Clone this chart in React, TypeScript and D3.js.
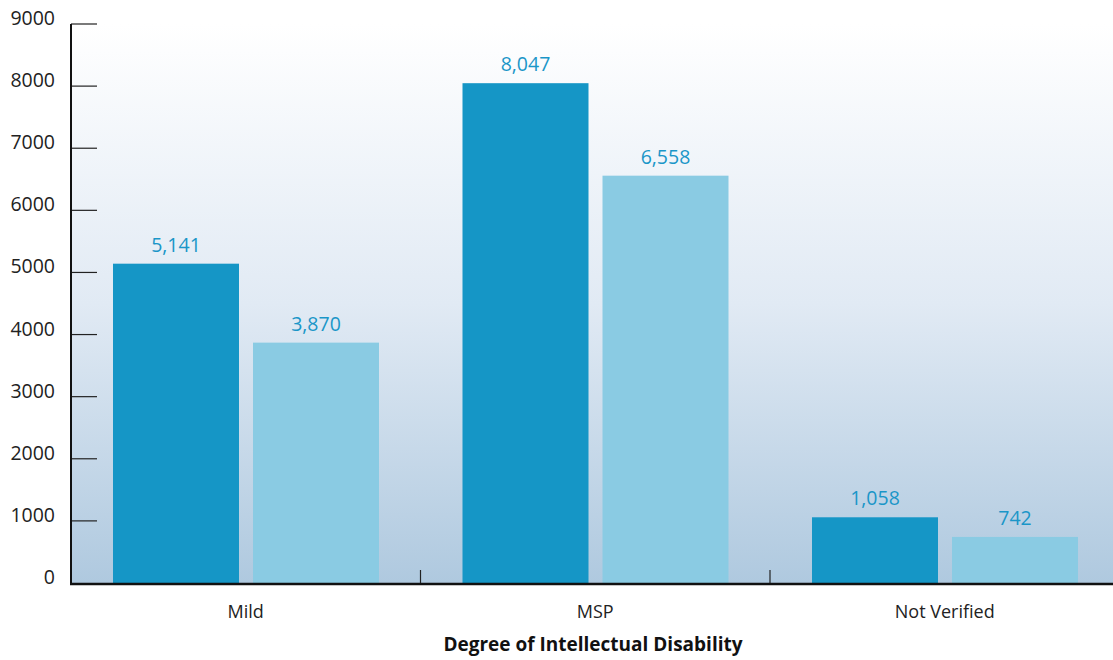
import React from "react";
import * as d3 from "d3";

const categories = ["Mild", "MSP", "Not Verified"];
const seriesA = [5141, 8047, 1058];
const seriesB = [3870, 6558, 742];
const yTicks = [0, 1000, 2000, 3000, 4000, 5000, 6000, 7000, 8000, 9000];
const xTitle = "Degree of Intellectual Disability";

const W = 1113;
const H = 660;
const FONT = "'Open Sans', 'Noto Sans', sans-serif";

export default function App() {
  const left = 71;
  const bandW = 349.5;
  const top = 24;
  const bottom = 583;
  const x = d3
    .scaleBand<string>()
    .domain(categories)
    .range([left, left + bandW * categories.length])
    .paddingInner(0)
    .paddingOuter(0);
  const y = d3.scaleLinear().domain([0, 9000]).range([bottom, top]);
  const barW = 126;
  const gapOuter = 42;
  const gapInner = 14;
  const fmt = d3.format(",");

  const series = [
    { values: seriesA, color: "#1596c6", offset: gapOuter },
    { values: seriesB, color: "#8acbe3", offset: gapOuter + barW + gapInner },
  ];

  return (
    <svg
      width={W}
      height={H}
      style={{ position: "fixed", left: 0, top: 0, background: "#fff" }}
      fontFamily={FONT}
    >
      <defs>
        <linearGradient id="bg" x1="0" y1="0" x2="0" y2="1">
          <stop offset="0" stopColor="#ffffff" />
          <stop offset="0.5" stopColor="#e1eaf4" />
          <stop offset="1" stopColor="#afc9df" />
        </linearGradient>
      </defs>
      <rect x={left} y={top} width={W - left} height={bottom - top} fill="url(#bg)" />
      {series.map((s, si) =>
        categories.map((c, i) => {
          const bx = (x(c) as number) + s.offset;
          const v = s.values[i];
          return (
            <g key={`${si}-${i}`}>
              <rect x={bx} y={y(v)} width={barW} height={bottom - y(v)} fill={s.color} />
              <text
                x={bx + barW / 2}
                y={y(v) - 12}
                textAnchor="middle"
                fontSize={19.5}
                fill="#1a96c8"
              >
                {fmt(v)}
              </text>
            </g>
          );
        })
      )}
      {yTicks.map((t) => (
        <g key={t}>
          {t > 0 && (
            <line x1={left} x2={97} y1={y(t)} y2={y(t)} stroke="#222" strokeWidth={1.2} />
          )}
          <text x={55} y={y(t) + 1} textAnchor="end" fontSize={19.5} fill="#222">
            {t}
          </text>
        </g>
      ))}
      <line x1={left} x2={left} y1={top} y2={bottom + 1.5} stroke="#111" strokeWidth={2} />
      <line x1={left - 1} x2={W} y1={bottom + 1} y2={bottom + 1} stroke="#111" strokeWidth={2.5} />
      {categories.slice(1).map((c) => (
        <line
          key={c}
          x1={x(c) as number}
          x2={x(c) as number}
          y1={bottom - 13}
          y2={bottom}
          stroke="#222"
          strokeWidth={1.2}
        />
      ))}
      {categories.map((c) => (
        <text
          key={c}
          x={(x(c) as number) + bandW / 2}
          y={618}
          textAnchor="middle"
          fontSize={18}
          fill="#222"
        >
          {c}
        </text>
      ))}
      <text x={593} y={651} textAnchor="middle" fontSize={19} fontWeight="bold" fill="#111">
        {xTitle}
      </text>
    </svg>
  );
}
